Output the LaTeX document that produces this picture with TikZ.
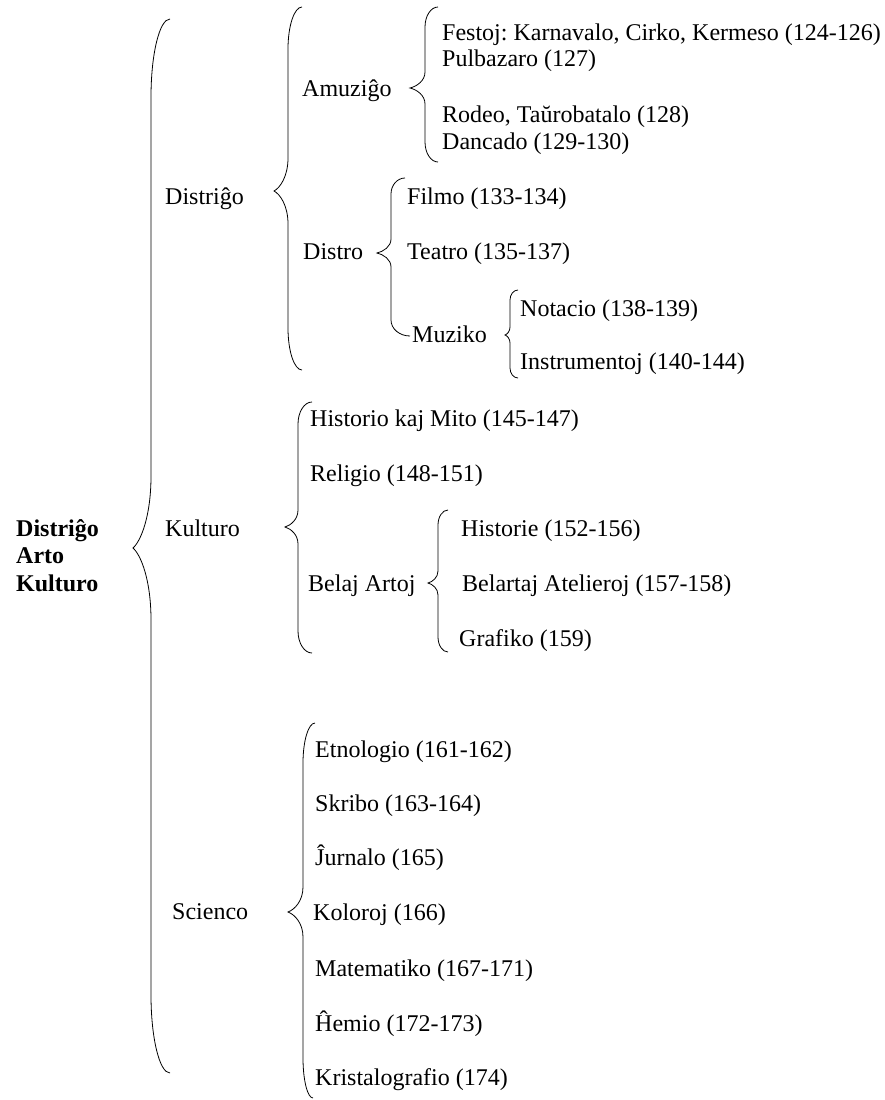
\documentclass[tikz,border=0pt]{standalone}
\usepackage{fontspec}
\setmainfont{Liberation Serif}
% brace: #1 top tip x, #2 top y, #3 bottom tip x, #4 bottom y, #5 stem x, #6 cusp x, #7 cusp y, #8 end radius, #9 cusp radius
\newcommand\mybrace[9]{%
  \draw[brc] (#1,#2) .. controls ({#5+0.448*(#1-#5)},#2) and (#5,{#2+0.448*#8}) .. (#5,{#2+#8})
    -- (#5,{#7-#9}) .. controls (#5,{#7-0.45*#9}) and ({#6+0.45*(#5-#6)},{#7-0.1*#9}) .. (#6,#7)
    .. controls ({#6+0.45*(#5-#6)},{#7+0.1*#9}) and (#5,{#7+0.45*#9}) .. (#5,{#7+#9})
    -- (#5,{#4-#8}) .. controls (#5,{#4-0.448*#8}) and ({#5+0.448*(#3-#5)},#4) .. (#3,#4);}
\begin{document}
\frenchspacing
\begin{tikzpicture}[x=1pt,y=-1pt,
  lbl/.style={anchor=west, inner sep=0pt, text height=15.9pt, text depth=0pt, font=\fontsize{24}{27.6}\selectfont},
  ttl/.style={lbl, font=\fontsize{24}{27.6}\selectfont\bfseries},
  brc/.style={draw=black, line width=0.8pt}]
\useasboundingbox (0,0) rectangle (885,1100);
% title
\node[ttl] (t1) at (16,529) {Distriĝo};
\node[ttl] (t2) at (16,556) {Arto};
\node[ttl] (t3) at (16,584) {Kulturo};
% level 2
\node[lbl] (distrigo) at (165,197) {Distriĝo};
\node[lbl] (kulturo) at (165,529) {Kulturo};
\node[lbl] (scienco) at (172,912) {Scienco};
% Distrigo branch
\node[lbl] (amuzigo) at (302,89) {Amuziĝo};
\node[lbl] (festoj) at (442,33) {Festoj: Karnavalo, Cirko, Kermeso (124-126)};
\node[lbl] (pulbazaro) at (442,59) {Pulbazaro (127)};
\node[lbl] (rodeo) at (442,115) {Rodeo, Taŭrobatalo (128)};
\node[lbl] (dancado) at (442,142) {Dancado (129-130)};
\node[lbl] (distro) at (303,252) {Distro};
\node[lbl] (filmo) at (407,197) {Filmo (133-134)};
\node[lbl] (teatro) at (407,252) {Teatro (135-137)};
\node[lbl] (muziko) at (412,335) {Muziko};
\node[lbl] (notacio) at (520,309) {Notacio (138-139)};
\node[lbl] (instrumentoj) at (520,362) {Instrumentoj (140-144)};
% Kulturo branch
\node[lbl] (historio) at (310,419) {Historio kaj Mito (145-147)};
\node[lbl] (religio) at (310,474) {Religio (148-151)};
\node[lbl] (belaj) at (308,584) {Belaj Artoj};
\node[lbl] (historie) at (461,529) {Historie (152-156)};
\node[lbl] (belartaj) at (462,584) {Belartaj Atelieroj (157-158)};
\node[lbl] (grafiko) at (459,639) {Grafiko (159)};
% Scienco branch
\node[lbl] (etnologio) at (315,750) {Etnologio (161-162)};
\node[lbl] (skribo) at (315,804) {Skribo (163-164)};
\node[lbl] (jurnalo) at (315,858) {Ĵurnalo (165)};
\node[lbl] (koloroj) at (313,913) {Koloroj (166)};
\node[lbl] (matematiko) at (315,969) {Matematiko (167-171)};
\node[lbl] (hemio) at (315,1024) {Ĥemio (172-173)};
\node[lbl] (kristalo) at (315,1078) {Kristalografio (174)};
% braces
\mybrace{170}{19}{170}{1073}{151}{133}{548}{78}{72}
\mybrace{302}{7}{302}{370}{288}{274}{191}{42}{33}
\mybrace{438}{7}{438}{162}{425}{410}{88}{20}{16}
\mybrace{405}{178}{410}{336}{391}{377}{253}{16}{14}
\mybrace{518}{290}{518}{378}{510}{505}{335}{10}{8}
\mybrace{312}{402}{312}{653}{298}{285}{527}{22}{17}
\mybrace{448}{510}{448}{652}{438}{428}{583}{15}{12}
\mybrace{315}{723}{313}{1098}{303}{288}{912}{40}{25}
\end{tikzpicture}
\end{document}
